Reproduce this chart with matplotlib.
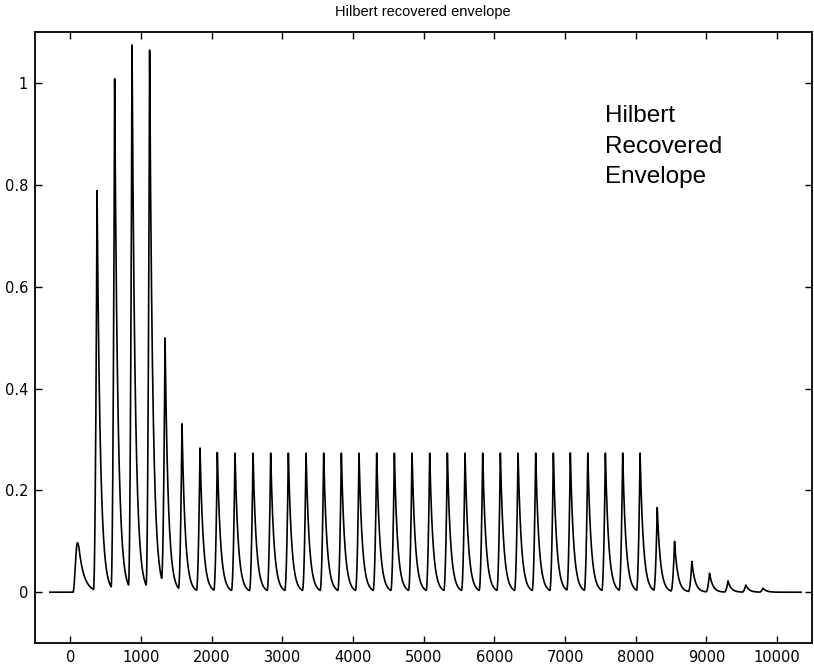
import numpy as np
import matplotlib
matplotlib.use("Agg")
import matplotlib.pyplot as plt


# envelope pulses: peak sample index and peak height
PEAK_POS = [
    100, 378, 627, 873, 1122, 1340, 1580, 1835, 2080, 2330,
    2585, 2835, 3085, 3335, 3585, 3835, 4085, 4335, 4585, 4835,
    5085, 5335, 5585, 5835, 6085, 6335, 6585, 6835, 7075, 7322,
    7571, 7816, 8062, 8305, 8550, 8795, 9045, 9306, 9558, 9802,
]
PEAK_AMP = [
    0.097, 0.786, 1.005, 1.07, 1.06, 0.49, 0.328, 0.282, 0.273, 0.272,
    0.272, 0.272, 0.272, 0.272, 0.272, 0.272, 0.272, 0.272, 0.272, 0.272,
    0.272, 0.272, 0.272, 0.272, 0.272, 0.272, 0.272, 0.272, 0.272, 0.272,
    0.272, 0.272, 0.272, 0.165, 0.099, 0.060, 0.037, 0.022, 0.014, 0.008,
]
# rise length before each peak (the first burst is a slow, rounded one)
RISE = [62] + [50] * 39
DECAY = [75] + [46] * 39

X_START, X_END = -290, 10340

X_TICKS = [0, 1000, 2000, 3000, 4000, 5000, 6000, 7000, 8000, 9000, 10000]
Y_TICKS = [0, 0.2, 0.4, 0.6, 0.8, 1]
Y_TICK_LABELS = ["0", "0.2", "0.4", "0.6", "0.8", "1"]


def envelope(n):
    env = np.zeros_like(n, dtype=float)
    for i, (pos, amp) in enumerate(zip(PEAK_POS, PEAK_AMP)):
        rise, tau = RISE[i], DECAY[i]
        t = n - pos
        up = (t >= -rise) & (t < 0)
        down = t >= 0
        s = (t[up] + rise) / rise
        d = t[down]
        if i == 0:
            # slow burst with a rounded top
            env[up] += amp * np.sin(0.5 * np.pi * s) ** 2
            env[down] += amp * np.where(d < 20, 1 - 0.08 * (d / 20) ** 2,
                                        0.92 * np.exp(-(d - 20) / tau))
        else:
            env[up] += amp * s ** 2
            env[down] += amp * np.exp(-d / tau)
    return env


def main():
    plt.rcParams["font.family"] = ["DejaVu Sans"]

    n = np.arange(X_START, X_END + 1, 1.0)
    env = envelope(n)

    fig = plt.figure(figsize=(8.14, 6.72), dpi=100)
    ax = fig.add_axes([0.043, 0.043, 0.955, 0.909])
    ax.plot(n, env, color="black", linewidth=1.2)

    ax.set_xlim(-500, 10500)
    ax.set_ylim(-0.1, 1.1)
    ax.set_xticks(X_TICKS)
    ax.set_xticklabels([str(v) for v in X_TICKS])
    ax.set_yticks(Y_TICKS)
    ax.set_yticklabels(Y_TICK_LABELS)
    ax.tick_params(direction="in", length=5, width=1.0, top=True, right=True,
                   labelsize=10.5, pad=5)
    for spine in ax.spines.values():
        spine.set_linewidth(1.3)

    fig.text(0.52, 0.982, "Hilbert recovered envelope", fontsize=10.5,
             family=["Liberation Sans", "DejaVu Sans"], ha="center", va="center")
    ax.text(7570, 0.957, "Hilbert\nRecovered\nEnvelope", fontsize=17.5,
            family=["Liberation Sans", "DejaVu Sans"],
            va="top", ha="left", linespacing=1.5)

    fig.savefig("out.png", dpi=100)
    plt.close(fig)


if __name__ == "__main__":
    main()
